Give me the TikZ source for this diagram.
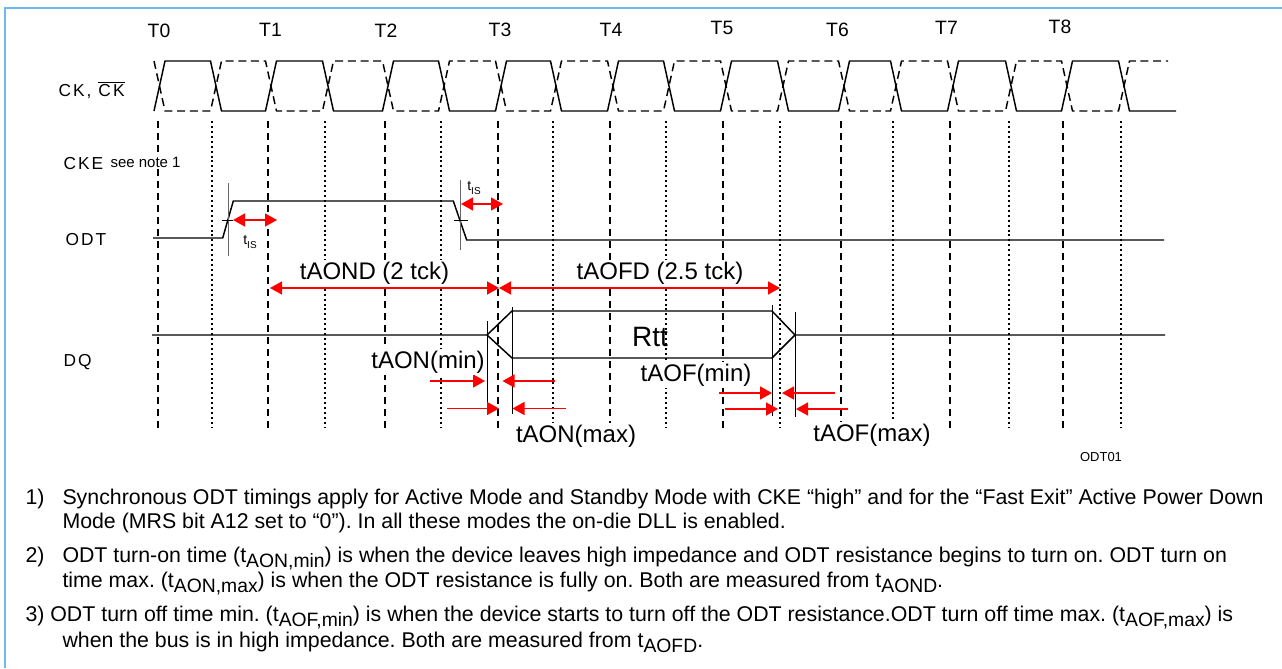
\documentclass[tikz,border=0pt]{standalone}
\usepackage{fontspec}
\setmainfont{Liberation Sans}
\newfontfamily\sigfont[LetterSpace=12]{Liberation Sans}
\usetikzlibrary{arrows.meta}
\frenchspacing

\definecolor{framecol}{RGB}{110,185,240}
\tikzset{every picture/.style={line width=0.75pt}}
\tikzset{
  tline/.style={line width=0.9pt, dash pattern=on 5.5pt off 3.5pt},
  hline/.style={line width=0.9pt, dash pattern=on 1.5pt off 2.2pt},
  wave/.style={line width=1.1pt},
  guide/.style={line width=0.7pt},
  isguide/.style={line width=0.7pt, black!60},
  redarr/.style={red, line width=1.1pt, -{Triangle[length=9pt,width=9.75pt]}},
  redboth/.style={red, line width=1.1pt, {Triangle[length=9pt,width=9.75pt]}-{Triangle[length=9pt,width=9.75pt]}},
  lbl/.style={font=\fontsize{18}{20}\selectfont, inner sep=1pt, fill=white},
  tlbl/.style={font=\fontsize{14.5}{16}\selectfont, inner sep=0.75pt},
  sig/.style={font=\fontsize{13}{15}\sigfont, inner sep=0.75pt, anchor=west},
  note/.style={font=\fontsize{16}{19}\selectfont, inner sep=0pt, anchor=base west},
}
\newcommand{\tsub}[1]{\raisebox{-0.5ex}{\fontsize{14.5}{15}\selectfont #1}}
\newcommand{\issub}{t\raisebox{-0.5ex}{\fontsize{7.5}{8}\selectfont IS}}

\begin{document}
\begin{tikzpicture}[x=0.75pt,y=0.75pt,yscale=-1,xscale=1]
\useasboundingbox (0,0) rectangle (1282,668);

%Frame
\draw[framecol, line width=1pt] (5,668) -- (5,8) -- (1282,8);

%Grid lines at clock edges
\foreach \x in {158,268,385,498,610,723,841,950,1063}
  \draw[tline] (\x,121) -- (\x,428);
\foreach \x in {212,325,441,553,666,780,893,1009,1121}
  \draw[hline] (\x,121) -- (\x,428);

%Clock CK and CK#
\draw[wave] (154,111) foreach \t/\h in {159.5/216,271/328,388/444,501/556,613/669,726/783,844/896,953/1011,1067/1124}
  { -- (\t-5.5,111) -- (\t+5.5,61) -- (\h-5.5,61) -- (\h+5.5,111) } -- (1176,111);
\draw[wave, dash pattern=on 6pt off 3.5pt] (154,61) foreach \t/\h in {159.5/216,271/328,388/444,501/556,613/669,726/783,844/896,953/1011,1067/1124}
  { -- (\t-5.5,61) -- (\t+5.5,111) -- (\h-5.5,111) -- (\h+5.5,61) } -- (1168,61);

%ODT
\draw[wave] (153,238) -- (222.7,238) -- (233.3,201) -- (453.3,201) -- (466.7,240) -- (1164,240);
\draw[isguide] (228.3,183) -- (228.3,256);
\draw[guide] (221.5,220) -- (233,220);
\draw[isguide] (460.7,180) -- (460.7,250);
\draw[guide] (454,220.7) -- (468,220.7);
\draw[redboth] (233,220) -- (277,220);
\draw[redboth] (461,204) -- (503,204);

%DQ with Rtt
\draw[wave] (152,335) -- (487,335) -- (512,311) -- (772,311) -- (795,335) -- (1165,335);
\draw[wave] (487,335) -- (512,358) -- (772,358) -- (795,335);
\draw[guide] (487.5,321) -- (487.5,402);
\draw[guide] (512,307) -- (512,414);
\draw[guide] (772.5,305) -- (772.5,416);
\draw[guide] (795.5,312) -- (795.5,417);

%Delay arrows
\draw[redboth] (270,288) -- (499,288);
\draw[redboth] (499,288) -- (780,288);
\draw[redarr] (430,381) -- (485,381);
\draw[redarr] (555,381) -- (502.5,381);
\draw[redarr] (447,408.5) -- (499,408.5);
\draw[redarr] (566,408.5) -- (512.5,408.5);
\draw[redarr] (719,393) -- (772,393);
\draw[redarr] (835,393) -- (782,393);
\draw[redarr] (725,409) -- (778,409);
\draw[redarr] (848,409) -- (796,409);

% Text Node
\foreach \x/\y [count=\i from 0] in {159/31,270.5/30,386/31,500/30,611/30,722/28,837.5/30,946.5/28,1060/27}
  \node[tlbl] (T\i) at (\x,\y) {T\i};
\node[sig] (ck) at (57,90) {CK, $\overline{\hbox{CK}}$};
\node[sig] (cke) at (62,164) {CKE};
\node[font=\fontsize{11.25}{13}\selectfont, inner sep=0.75pt, fill=white, anchor=west] (seenote) at (109,162) {see note 1};
\node[sig] (odt) at (64,240) {ODT};
\node[sig] (dq) at (62,362) {DQ};
\node[inner sep=0.75pt, font=\fontsize{10.5}{12}\selectfont] (tis1) at (250,242) {\issub};
\node[inner sep=0.75pt, font=\fontsize{10.5}{12}\selectfont] (tis2) at (474,188) {\issub};
\node[lbl] (aond) at (374.5,273) {tAOND (2 tck)};
\node[lbl] (aofd) at (660,273) {tAOFD (2.5 tck)};
\node[font=\fontsize{21}{24}\selectfont, inner sep=0.75pt] (rtt) at (650,337) {Rtt};
\node[lbl] (aonmin) at (428,362) {tAON(min)};
\node[lbl] (aonmax) at (576,436) {tAON(max)};
\node[lbl] (aofmin) at (696,375) {tAOF(min)};
\node[lbl] (aofmax) at (872,435) {tAOF(max)};
\node[font=\fontsize{9.75}{11}\selectfont, inner sep=0.75pt] (fig) at (1101,457) {ODT01};

% Notes
\node[note] (n1) at (25,504) {1)};
\node[note] (n1a) at (62,504) {Synchronous ODT timings apply for Active Mode and Standby Mode with CKE “high” and for the “Fast Exit” Active Power Down};
\node[note] (n1b) at (62,528) {Mode (MRS bit A12 set to “0”). In all these modes the on-die DLL is enabled.};
\node[note] (n2) at (25,562) {2)};
\node[note] (n2a) at (62,562) {ODT turn-on time (t\tsub{AON,min}) is when the device leaves high impedance and ODT resistance begins to turn on. ODT turn on};
\node[note] (n2b) at (62,587) {time max. (t\tsub{AON,max}) is when the ODT resistance is fully on. Both are measured from t\tsub{AOND}.};
\node[note] (n3a) at (25,621) {3) ODT turn off time min. (t\tsub{AOF,min}) is when the device starts to turn off the ODT resistance.ODT turn off time max. (t\tsub{AOF,max}) is};
\node[note] (n3b) at (62,647) {when the bus is in high impedance. Both are measured from t\tsub{AOFD}.};

\end{tikzpicture}
\end{document}
